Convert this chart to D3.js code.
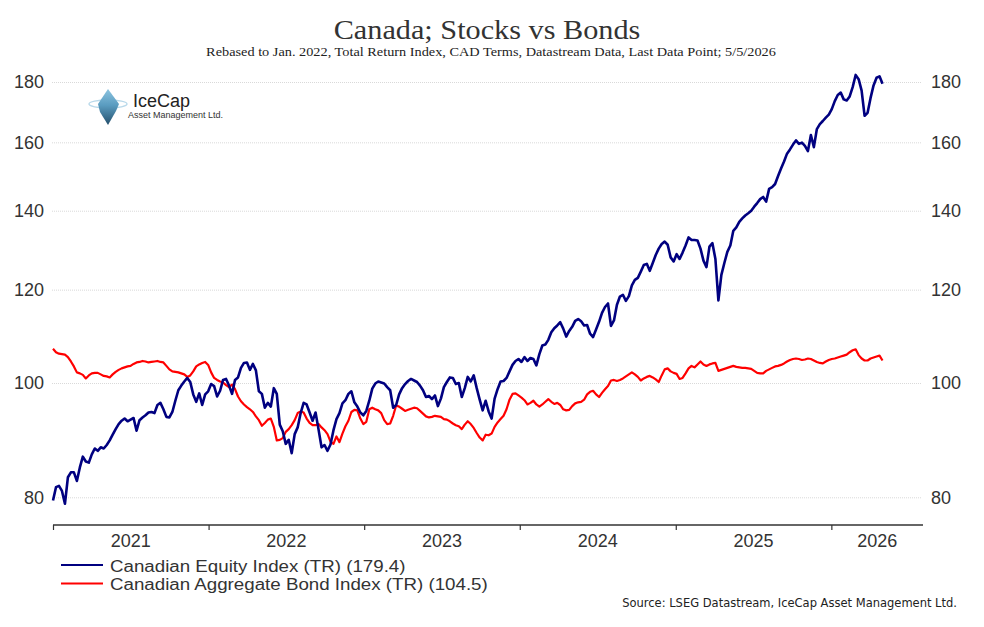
<!DOCTYPE html>
<html>
<head>
<meta charset="utf-8">
<script src="https://cdn.jsdelivr.net/npm/d3@7"></script>
<style>
  body { margin: 0; background: #fff; }
  svg { display: block; }
</style>
</head>
<body>
<div id="chart-area"></div>
<script>
// weekly readings, first week starting 1 Jan 2021
var startDate = new Date(2021, 0, 1);

var equity = [
  79.5, 81.6, 81.8, 81.0, 79.0, 83.2, 84.0, 84.0, 82.6, 84.8,
  86.6, 85.8, 85.6, 87.0, 88.0, 87.6, 88.2, 88.0, 88.6, 89.4,
  90.4, 91.4, 92.3, 92.9, 93.3, 92.8, 93.1, 93.4, 91.1, 93.0,
  93.5, 93.9, 94.4, 94.5, 94.3, 95.8, 96.2, 95.0, 93.6, 93.5,
  94.5, 96.6, 98.6, 99.5, 100.3, 101.0, 100.2, 97.8, 96.4, 98.0,
  95.8, 97.8, 98.4, 99.8, 99.4, 97.4, 98.5, 100.6, 100.8, 99.5,
  97.9, 100.6, 101.1, 103.0, 104.0, 104.1, 102.6, 103.8, 102.5, 98.4,
  97.9, 95.3, 96.2, 95.5, 99.0, 97.9, 92.2, 91.0, 88.8, 89.5,
  87.2, 90.5, 91.7, 94.3, 96.2, 95.9, 94.4, 92.9, 94.4, 91.3,
  88.2, 88.6, 87.6, 88.7, 91.2, 93.2, 94.3, 96.1, 96.7, 97.9,
  98.4, 96.3, 95.5, 94.4, 93.9, 94.7, 96.6, 98.9, 99.9, 100.3,
  100.1, 99.9, 99.2, 98.6, 95.3, 95.8, 97.8, 99.0, 99.8, 100.4,
  100.8, 100.5, 100.2, 99.5, 98.6, 97.3, 97.5, 96.9, 97.6, 95.6,
  97.0, 99.2, 100.2, 101.1, 101.0, 99.8, 100.0, 97.3, 99.0, 101.2,
  100.3, 101.5, 99.0, 96.8, 94.8, 96.6, 94.6, 93.3, 97.0, 98.8,
  100.3, 100.4, 101.0, 102.3, 103.6, 104.4, 104.8, 104.2, 105.2, 104.4,
  105.0, 104.8, 103.5, 105.8, 107.6, 107.8, 108.8, 110.4, 111.3, 111.9,
  112.6, 111.2, 109.5, 110.7, 111.6, 112.9, 113.3, 112.8, 111.9, 112.0,
  110.1, 109.4, 111.0, 112.7, 114.7, 116.0, 116.8, 111.8, 113.0, 116.5,
  118.4, 118.8, 117.4, 118.5, 121.0, 122.3, 122.8, 124.3, 125.9, 126.2,
  124.5, 126.4, 128.4, 130.0, 131.2, 131.8, 131.0, 127.8, 126.8, 128.6,
  127.4, 129.0, 130.8, 132.9, 132.2, 132.2, 132.1, 130.0, 127.0, 125.4,
  130.5, 131.4, 127.4, 117.5, 123.5, 126.4, 129.2, 130.8, 134.6, 135.5,
  137.0, 137.9, 138.7, 139.3, 140.0, 141.1, 142.1, 143.2, 143.8, 142.5,
  146.1, 146.6, 147.5, 149.8, 152.0, 154.1, 156.5, 157.8, 159.3, 160.6,
  159.5, 159.9, 158.9, 157.3, 162.3, 158.5, 164.2, 165.8, 166.8, 167.9,
  168.9, 170.7, 173.4, 175.5, 176.3, 174.0, 173.6, 175.0, 178.2, 182.5,
  181.0, 177.0, 168.5, 169.5, 174.5, 178.8, 181.5, 182.0, 179.4
];

var bonds = [
  106.9, 106.2, 105.9, 105.8, 105.7, 105.2, 104.3, 103.3, 102.1, 101.9,
  101.6, 100.9, 101.5, 101.9, 102.0, 102.0, 101.7, 101.4, 101.3, 101.1,
  101.7, 102.2, 102.6, 102.9, 103.1, 103.3, 103.4, 103.8, 104.1, 104.2,
  104.4, 104.3, 104.1, 104.2, 104.3, 104.4, 104.2, 104.1, 103.4, 102.7,
  102.3, 102.2, 102.1, 101.9, 101.7, 101.2, 101.5, 102.3, 103.3, 103.7,
  104.0, 104.2, 103.6, 102.1, 101.0, 100.6, 100.3, 100.1, 99.6, 99.2,
  99.7, 98.8, 97.4, 96.5, 95.9, 95.4, 95.0, 94.5, 93.7, 93.0,
  92.0, 92.5, 93.1, 93.3, 91.8, 89.4, 89.5, 89.8, 90.9, 91.4,
  92.1, 93.0, 94.3, 94.6, 94.4, 93.3, 92.5, 92.1, 92.1, 92.3,
  91.7, 91.2, 90.5, 89.2, 88.8, 90.1, 89.1, 90.6, 91.9, 92.9,
  94.5, 94.9, 94.8, 93.3, 92.3, 92.7, 95.0, 95.3, 95.0, 94.8,
  94.3, 93.0, 92.3, 92.4, 93.8, 95.7, 95.5, 95.1, 94.7, 94.9,
  95.1, 95.3, 95.2, 94.7, 94.2, 93.7, 93.5, 93.6, 93.8, 93.7,
  93.6, 93.2, 93.1, 92.8, 92.4, 92.1, 91.9, 91.4, 92.2, 92.8,
  92.3, 91.6, 90.7, 89.9, 89.4, 90.4, 90.3, 90.6, 91.8, 92.6,
  93.2, 93.8, 95.0, 96.8, 97.9, 98.0, 97.6, 97.2, 96.7, 95.9,
  96.2, 96.6, 95.9, 95.5, 95.9, 96.4, 96.9, 96.4, 96.0, 96.2,
  95.8, 95.0, 94.8, 94.9, 95.6, 96.1, 96.3, 96.4, 96.8, 97.8,
  98.3, 98.5, 97.8, 97.3, 98.1, 98.8, 99.4, 100.5, 100.6, 100.4,
  100.6, 100.9, 101.3, 101.7, 102.1, 101.7, 101.2, 100.5, 100.9, 101.2,
  101.4, 101.1, 100.7, 100.2, 101.5, 102.7, 102.9, 102.3, 102.0, 101.8,
  100.8, 101.0, 101.9, 102.9, 103.4, 103.1, 103.7, 104.3, 103.7, 103.4,
  103.7, 103.9, 104.0, 102.4, 102.6, 102.8, 103.0, 103.2, 103.4, 103.2,
  103.1, 103.0, 103.0, 102.9, 102.8, 102.4, 102.0, 101.9, 101.9, 102.4,
  102.7, 103.0, 103.3, 103.4, 103.6, 103.9, 104.3, 104.6, 104.8, 104.9,
  104.8, 104.6, 104.7, 104.9, 104.8, 104.5, 104.2, 104.0, 103.9, 104.3,
  104.6, 104.8, 104.9, 105.1, 105.3, 105.5, 105.7, 106.2, 106.6, 106.8,
  105.6, 104.9, 104.5, 104.5, 104.9, 105.1, 105.3, 105.5, 104.5
];

var seriesNames = ["Canadian Equity Index (TR) (179.4)", "Canadian Aggregate Bond Index (TR) (104.5)"];
var seriesColors = ["#000080", "#ff0000"];
var yTicks = [80, 100, 120, 140, 160, 180];
var yearTicks = [2021, 2022, 2023, 2024, 2025, 2026];

var width = 984;
var height = 627;

// widen a text to match the reference's wider face
function stretch(sel, factor) {
    sel.each(function() {
        var len = this.getComputedTextLength();
        d3.select(this)
            .attr("textLength", len * factor)
            .attr("lengthAdjust", "spacingAndGlyphs");
    });
}

var svg = d3.select("#chart-area")
    .append("svg")
        .attr("width", width)
        .attr("height", height)
        .style("font-family", "'Liberation Sans', Arial, sans-serif");

var dates = equity.map((d, i) => d3.timeDay.offset(startDate, 7 * i));

var x = d3.scaleTime()
    .domain([new Date(2021, 0, 1), new Date(2026, 7, 4)])
    .range([53, 923]);

var y = d3.scaleLog()
    .domain([80, 180])
    .range([497.3, 82]);

// titles
svg.append("text")
    .attr("x", 487)
    .attr("y", 39)
    .attr("text-anchor", "middle")
    .attr("font-family", "'Liberation Serif', 'DejaVu Serif', serif")
    .attr("font-size", "28px")
    .attr("fill", "#333")
    .text("Canada; Stocks vs Bonds")
    .call(stretch, 1.08);

svg.append("text")
    .attr("x", 491)
    .attr("y", 56)
    .attr("text-anchor", "middle")
    .attr("font-family", "'Liberation Serif', 'DejaVu Serif', serif")
    .attr("font-size", "13px")
    .attr("fill", "#222")
    .text("Rebased to Jan. 2022, Total Return Index, CAD Terms, Datastream Data, Last Data Point; 5/5/2026")
    .call(stretch, 1.1);

// gridlines
var grid = svg.append("g")
    .attr("transform", "translate(52, 0)")
    .call(d3.axisRight(y).tickValues(yTicks).tickSize(870).tickFormat(""));
grid.select(".domain").remove();
grid.selectAll("line")
    .attr("stroke", "#d9d9d9")
    .attr("stroke-dasharray", "1,1");

// y labels both sides
var leftAxis = svg.append("g")
    .attr("transform", "translate(44, 0)")
    .call(d3.axisLeft(y).tickValues(yTicks).tickSize(0).tickPadding(0).tickFormat(d3.format("d")));
var rightAxis = svg.append("g")
    .attr("transform", "translate(931, 0)")
    .call(d3.axisRight(y).tickValues(yTicks).tickSize(0).tickPadding(0).tickFormat(d3.format("d")));
[leftAxis, rightAxis].forEach((a) => {
    a.select(".domain").remove();
    a.selectAll("text")
        .attr("font-family", "'Liberation Sans', Arial, sans-serif")
        .attr("font-size", "18px")
        .attr("fill", "#333");
});

// x axis
var yearStarts = yearTicks.map((yr) => new Date(yr, 0, 1));
var bottomAxis = svg.append("g")
    .attr("transform", "translate(0, 525)")
    .call(d3.axisBottom(x).tickValues(yearStarts).tickSize(5).tickFormat(""));
bottomAxis.select(".domain")
    .attr("d", "M" + x.range()[0] + ",0H" + x.range()[1])
    .attr("stroke", "#333")
    .attr("stroke-width", 1.5);
bottomAxis.selectAll(".tick line")
    .attr("stroke", "#333")
    .attr("stroke-width", 1.2);

svg.append("g").selectAll("text")
    .data(yearTicks)
    .enter()
    .append("text")
        .attr("x", (d) => {
            var a = x(new Date(d, 0, 1));
            var b = Math.min(x(new Date(d + 1, 0, 1)), x.range()[1]);
            return (a + b) / 2;
        })
        .attr("y", 547)
        .attr("text-anchor", "middle")
        .attr("font-size", "18px")
        .attr("fill", "#333")
        .text((d) => d);

// lines
var line = d3.line()
    .x((d, i) => x(dates[i]))
    .y((d) => y(d));

svg.append("path")
    .datum(bonds)
    .attr("fill", "none")
    .attr("stroke", seriesColors[1])
    .attr("stroke-width", 2.2)
    .attr("stroke-linejoin", "round")
    .attr("d", line);

svg.append("path")
    .datum(equity)
    .attr("fill", "none")
    .attr("stroke", seriesColors[0])
    .attr("stroke-width", 2.6)
    .attr("stroke-linejoin", "round")
    .attr("d", line);

// legend
var legend = svg.append("g").selectAll("g")
    .data(seriesNames)
    .enter()
    .append("g")
        .attr("transform", (d, i) => "translate(0, " + (565 + i * 18.5) + ")");
legend.append("line")
    .attr("x1", 61)
    .attr("x2", 103)
    .attr("stroke", (d, i) => seriesColors[i])
    .attr("stroke-width", 2.2);
legend.append("text")
    .attr("x", 110)
    .attr("y", 6.5)
    .attr("font-size", "16px")
    .attr("fill", "#333")
    .text((d) => d)
    .call(stretch, 1.17);

// source
svg.append("text")
    .attr("x", 957)
    .attr("y", 607)
    .attr("text-anchor", "end")
    .attr("font-family", "'DejaVu Sans', sans-serif")
    .attr("font-size", "11.5px")
    .attr("fill", "#222")
    .text("Source: LSEG Datastream, IceCap Asset Management Ltd.");

// logo
var defs = svg.append("defs");
var grad = defs.append("linearGradient")
    .attr("id", "ice")
    .attr("x1", 0).attr("y1", 0).attr("x2", 0).attr("y2", 1);
grad.append("stop").attr("offset", "0%").attr("stop-color", "#8cc4e0");
grad.append("stop").attr("offset", "45%").attr("stop-color", "#5a9cc0");
grad.append("stop").attr("offset", "100%").attr("stop-color", "#244f6c");

var logo = svg.append("g");
logo.append("ellipse")
    .attr("cx", 108).attr("cy", 104)
    .attr("rx", 19).attr("ry", 4)
    .attr("fill", "none")
    .attr("stroke", "#b9d9ea")
    .attr("stroke-width", 1.4);
logo.append("path")
    .attr("d", "M108,89 L98,104 L100,112 L108,125 L116,111 L119,104 Z")
    .attr("fill", "url(#ice)");
logo.append("text")
    .attr("x", 133).attr("y", 107)
    .attr("font-size", "18px")
    .attr("fill", "#222")
    .text("IceCap");
logo.append("text")
    .attr("x", 128).attr("y", 117.5)
    .attr("font-size", "9px")
    .attr("fill", "#333")
    .text("Asset Management Ltd.");
</script>
</body>
</html>
